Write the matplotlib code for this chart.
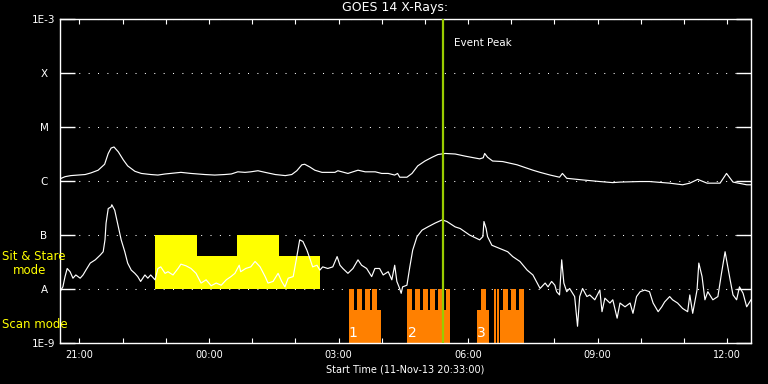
import numpy as np
import matplotlib
matplotlib.use('Agg')
import matplotlib.pyplot as plt
import matplotlib.dates as mdates
from matplotlib.ticker import NullLocator

# time axis: minutes after start time 11-Nov-13 20:33:00, 16 hours shown
t_start = np.datetime64('2013-11-11T20:33:00')
t_span = 960

# GOES 14 long channel (1-8 A), log10 flux in W/m^2
long_t = [0, 7, 15, 25, 35, 43, 53, 62, 67, 71, 75, 81, 88, 94, 104, 113, 126, 136,
          146, 168, 182, 201, 215, 229, 238, 247, 257, 265, 275, 285, 299, 313, 322,
          329, 336, 340, 347, 354, 364, 382, 386, 400, 414, 424, 438, 447, 456, 465,
          469, 472, 482, 489, 497, 507, 517, 525, 535, 549, 563, 583, 588, 590, 594,
          601, 615, 635, 657, 667, 681, 694, 698, 704, 726, 750, 768, 778, 806, 819,
          847, 865, 875, 886, 899, 917, 926, 935, 954, 960]
long_f = [-5.96, -5.92, -5.90, -5.89, -5.88, -5.85, -5.80, -5.69, -5.49, -5.39, -5.37,
          -5.46, -5.61, -5.72, -5.82, -5.86, -5.88, -5.89, -5.87, -5.84, -5.86, -5.88,
          -5.89, -5.88, -5.87, -5.83, -5.84, -5.83, -5.81, -5.84, -5.88, -5.90, -5.88,
          -5.81, -5.70, -5.69, -5.74, -5.80, -5.84, -5.84, -5.81, -5.86, -5.80, -5.83,
          -5.83, -5.86, -5.86, -5.89, -5.86, -5.93, -5.93, -5.86, -5.72, -5.63, -5.56,
          -5.51, -5.49, -5.50, -5.54, -5.59, -5.57, -5.49, -5.56, -5.63, -5.64, -5.70,
          -5.80, -5.84, -5.89, -5.93, -5.86, -5.95, -5.98, -6.01, -6.03, -6.02, -6.01,
          -6.01, -6.04, -6.07, -6.04, -5.97, -6.04, -6.04, -5.86, -6.02, -6.07, -6.07]

# GOES 14 short channel (0.5-4 A)
short_t = [0, 4, 7, 10, 14, 18, 22, 28, 32, 36, 42, 49, 56, 60, 62.5, 64, 67, 71, 72,
           76, 81, 85, 90, 94, 99, 104, 108, 112, 118, 122, 126, 132, 136, 140, 146,
           150, 157, 164, 168, 175, 182, 189, 196, 203, 210, 217, 224, 231, 237.5, 243,
           249, 251, 258, 265, 271, 278, 285, 289, 296, 303, 308, 312.5, 317, 324, 329,
           333, 337.5, 343, 347, 351, 357, 361, 365, 372, 379, 385, 389, 393, 400, 407,
           414, 419, 426, 433, 437.5, 444, 449, 456, 461, 465, 468, 471, 474, 476, 482,
           486, 490, 496, 503, 511, 521, 531, 537.5, 549, 556, 569, 583, 587.5, 589,
           592, 594, 600, 611, 622, 629, 639, 649, 657, 667, 674, 678, 683, 687.5, 690,
           694, 697, 700, 704, 708, 715, 719, 722, 726, 732, 736, 743, 750, 753, 757,
           764, 768, 774, 778, 785, 792, 796, 801, 806, 812.5, 819, 824, 831, 836, 840,
           847, 851, 858, 865, 872, 875, 879, 885, 887.5, 892, 896, 900, 907, 914, 919,
           924, 926, 931, 935, 940, 944, 949, 954, 960]
short_f = [-8.05, -7.96, -7.77, -7.62, -7.68, -7.80, -7.74, -7.80, -7.74, -7.65, -7.52,
           -7.46, -7.37, -7.31, -7.09, -6.78, -6.51, -6.48, -6.44, -6.54, -6.85, -7.09,
           -7.31, -7.52, -7.65, -7.71, -7.77, -7.86, -7.74, -7.80, -7.74, -7.83, -7.62,
           -7.59, -7.71, -7.68, -7.74, -7.62, -7.54, -7.57, -7.62, -7.71, -7.89, -7.83,
           -7.94, -7.89, -7.93, -7.83, -7.77, -7.71, -7.56, -7.68, -7.62, -7.59, -7.49,
           -7.59, -7.77, -7.89, -7.86, -7.71, -7.86, -7.96, -7.80, -7.77, -7.40, -7.09,
           -7.12, -7.28, -7.43, -7.59, -7.56, -7.65, -7.59, -7.62, -7.59, -7.40, -7.56,
           -7.62, -7.71, -7.62, -7.46, -7.56, -7.62, -7.77, -7.62, -7.62, -7.74, -7.68,
           -7.83, -7.56, -7.86, -7.96, -8.08, -7.96, -7.93, -7.59, -7.28, -7.03, -6.91,
           -6.85, -6.78, -6.72, -6.75, -6.85, -6.88, -7.00, -7.09, -7.03, -6.75, -6.88,
           -7.03, -7.19, -7.25, -7.31, -7.40, -7.49, -7.65, -7.74, -7.99, -7.89, -7.96,
           -7.86, -7.93, -8.05, -8.11, -7.46, -7.89, -8.05, -7.99, -8.14, -8.69, -8.14,
           -7.99, -8.14, -8.11, -8.20, -8.02, -8.42, -8.17, -8.26, -8.20, -8.54, -8.26,
           -8.33, -8.26, -8.45, -8.14, -8.05, -8.02, -8.05, -8.26, -8.42, -8.33, -8.24,
           -8.14, -8.20, -8.26, -8.36, -8.42, -8.11, -8.45, -8.02, -7.52, -7.77, -8.20,
           -8.05, -8.20, -8.14, -7.71, -7.31, -7.46, -7.83, -8.11, -8.20, -7.96, -8.08,
           -8.33, -8.20]

peak_t = 532

# sit & stare mode blocks (start, end, log10 top), base at A level
stare_t0 = [132, 190, 246, 304]
stare_t1 = [190, 246, 304, 361]
stare_top = [-7.0, -7.39, -7.0, -7.39]

# scan mode rasters (start, end, log10 top), base at 1E-9
scan_t0 = [401, 482, 579, 611,
           401, 412, 424, 433, 482, 493, 504, 514, 525, 536, 585, 603, 607, 615, 626, 638]
scan_t1 = [446, 542, 596, 644,
           408, 419, 431, 440, 489, 500, 511, 521, 532, 542, 592, 605.5, 609.5, 622, 633, 644]
scan_top = [-8.39] * 4 + [-8.0] * 16
scan_num = ['1', '2', '3']
scan_num_t = [407, 489, 586]

ytick_vals = [1e-9, 1e-8, 1e-7, 1e-6, 1e-5, 1e-4, 1e-3]
ytick_labels = ['1E-9', 'A', 'B', 'C', 'M', 'X', '1E-3']


def tm(m):
    sec = np.round(np.asarray(m, dtype=float) * 60).astype('int64')
    return t_start + sec.astype('timedelta64[s]')


fig = plt.figure(figsize=(7.68, 3.84), dpi=100, facecolor='black')
ax = fig.add_axes([60 / 768, 1 - 343 / 384, 691 / 768, 324 / 384])
ax.set_facecolor('black')

for a, b, top in zip(stare_t0, stare_t1, stare_top):
    ax.fill_between(tm([a, b]), 1e-8, 10 ** top, color='#ffff00', linewidth=0, zorder=2)
for a, b, top in zip(scan_t0, scan_t1, scan_top):
    ax.fill_between(tm([a, b]), 1e-9, 10 ** top, color='#ff8000', linewidth=0, zorder=2)
for s, t in zip(scan_num, scan_num_t):
    ax.text(tm(t), 10 ** -8.82, s, color='white', fontsize=10, ha='center', va='center', zorder=6)

ax.plot(tm(long_t), 10 ** np.array(long_f), color='white', lw=0.85, zorder=3)
ax.plot(tm(short_t), 10 ** np.array(short_f), color='white', lw=0.85, zorder=3)

ax.axvline(tm(peak_t), color='#99cc00', lw=1.6, zorder=5)
ax.text(tm(peak_t + 16), 10 ** -3.45, 'Event Peak', color='white', fontsize=7.5, va='center')

ax.set_yscale('log')
ax.set_ylim(1e-9, 1e-3)
ax.set_xlim(tm(0), tm(t_span))
ax.set_yticks(ytick_vals)
ax.set_yticklabels(ytick_labels)
ax.yaxis.set_minor_locator(NullLocator())
ax.xaxis.set_major_locator(mdates.HourLocator(byhour=range(0, 24, 3)))
ax.xaxis.set_minor_locator(mdates.HourLocator())
ax.xaxis.set_major_formatter(mdates.DateFormatter('%H:%M'))

# dotted level lines, 1 px dots every 9 px
ax.yaxis.grid(True, color='white', linestyle=(0, (1, 8)), linewidth=0.75)
for sp in ax.spines.values():
    sp.set_color('white')
    sp.set_linewidth(1.0)
ax.tick_params(axis='y', which='major', direction='in', length=10.5, width=1.0,
               color='white', labelcolor='white', labelsize=7.5, right=True, pad=11.5)
for lbl in ax.get_yticklabels():
    lbl.set_horizontalalignment('center')
ax.tick_params(axis='x', which='both', direction='in', length=3.6, width=0.8,
               color='white', labelcolor='white', labelsize=7, top=True, pad=5)

ax.set_xlabel('Start Time (11-Nov-13 20:33:00)', color='white', fontsize=7, labelpad=3)
fig.text(395 / 768, 1 - 8 / 384, 'GOES 14 X-Rays:', color='white', fontsize=9,
         ha='center', va='center')

fig.text(2 / 768, 1 - 257 / 384, 'Sit & Stare', color='#ffff00', fontsize=8.5, va='center')
fig.text(13 / 768, 1 - 270 / 384, 'mode', color='#ffff00', fontsize=8.5, va='center')
fig.text(2 / 768, 1 - 324 / 384, 'Scan mode', color='#ffff00', fontsize=8.5, va='center')

fig.savefig('out.png', dpi=100, facecolor='black')
